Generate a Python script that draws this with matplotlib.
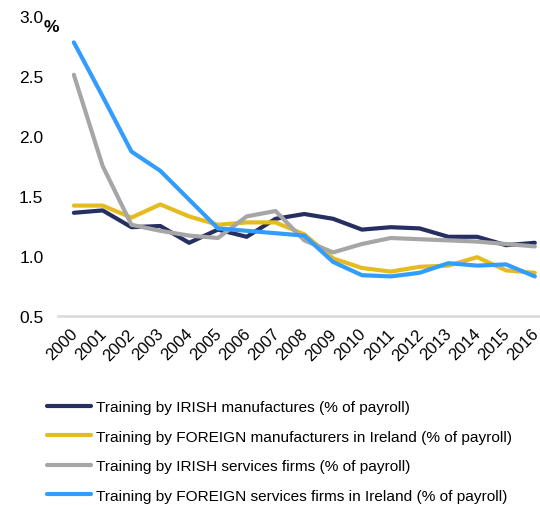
import numpy as np
import matplotlib
matplotlib.use("Agg")
import matplotlib.pyplot as plt
from matplotlib.transforms import ScaledTranslation

years = [str(y) for y in range(2000, 2017)]

irish_manuf = [1.36, 1.38, 1.24, 1.25, 1.11, 1.22, 1.16, 1.31, 1.35, 1.31, 1.22, 1.24, 1.23, 1.16, 1.16, 1.09, 1.11]
foreign_manuf = [1.42, 1.42, 1.32, 1.43, 1.33, 1.26, 1.28, 1.28, 1.18, 0.98, 0.90, 0.87, 0.91, 0.92, 0.99, 0.88, 0.86]
irish_services = [2.51, 1.75, 1.26, 1.21, 1.17, 1.15, 1.33, 1.375, 1.13, 1.03, 1.10, 1.15, 1.14, 1.13, 1.12, 1.10, 1.08]
foreign_services = [2.78, 2.33, 1.87, 1.71, 1.47, 1.23, 1.21, 1.19, 1.17, 0.95, 0.84, 0.83, 0.86, 0.94, 0.92, 0.93, 0.83]

series_labels = [
    "Training by IRISH manufactures (% of payroll)",
    "Training by FOREIGN manufacturers in Ireland (% of payroll)",
    "Training by IRISH services firms (% of payroll)",
    "Training by FOREIGN services firms in Ireland (% of payroll)",
]
series_colors = ["#272f62", "#e5bc1f", "#a6a6a6", "#339dff"]

plt.rcParams["font.family"] = ["Liberation Sans", "DejaVu Sans"]

W, H = 540, 506
fig = plt.figure(figsize=(W / 100, H / 100), dpi=100)
ax = fig.add_axes([58 / W, 1 - 317 / H, (540 - 58) / W, 300 / H])

x = np.arange(len(years))
for vals, lab, col in zip([irish_manuf, foreign_manuf, irish_services, foreign_services],
                          series_labels, series_colors):
    ax.plot(x, vals, color=col, linewidth=3, label=lab, solid_capstyle="round",
            solid_joinstyle="round")

ax.set_xlim(-0.55, 16.18)
ax.set_ylim(0.5, 3.0)
ax.set_yticks([0.5, 1.0, 1.5, 2.0, 2.5, 3.0])
ax.set_yticklabels(["0.5", "1.0", "1.5", "2.0", "2.5", "3.0"], fontsize=12.5)
ax.set_xticks(x)
ax.set_xticklabels(years, rotation=45, ha="right", rotation_mode="anchor", fontsize=12)
ax.tick_params(axis="both", length=0)
ax.tick_params(axis="y", pad=10.5)
ax.tick_params(axis="x", pad=7)

# nudge the rotated year labels slightly left, like the original
offset = ScaledTranslation(-4 / 100, 0, fig.dpi_scale_trans)
for lbl in ax.get_xticklabels():
    lbl.set_transform(lbl.get_transform() + offset)

for s in ["top", "right", "left"]:
    ax.spines[s].set_visible(False)
ax.spines["bottom"].set_color("#d9d9d9")
ax.spines["bottom"].set_linewidth(1.8)

fig.text(44 / W, 1 - 27 / H, "%", fontsize=12.5, fontweight="bold", ha="left", va="center")

fig.legend(loc="upper left", bbox_to_anchor=(47 / W, 1 - 401 / H), frameon=False,
           fontsize=11.1, handlelength=2.85, handletextpad=0.3, labelspacing=1.01,
           borderpad=0, borderaxespad=0)

fig.savefig("out.png", dpi=100)
